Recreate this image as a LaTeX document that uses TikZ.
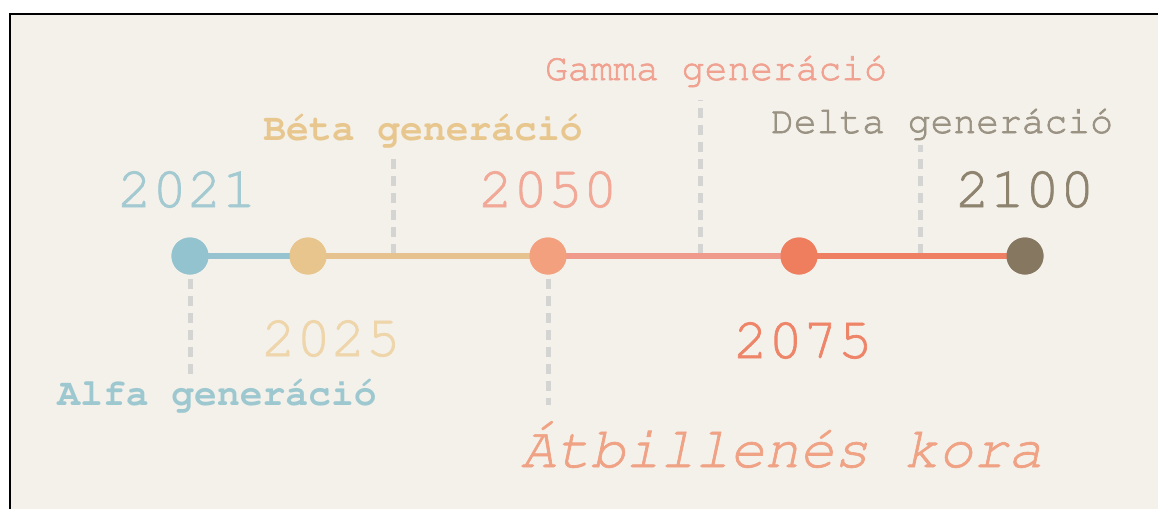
\documentclass[tikz,border=0pt]{standalone}
\usepackage[T1,TU]{fontenc}
\newcommand\cour{\fontencoding{T1}\fontfamily{pcr}\selectfont}
\newcommand\heavier[1]{\special{pdf:literal direct 2 Tr 0.7 w}#1\special{pdf:literal direct 0 Tr}}
\definecolor{bg}{HTML}{F4F1EB}
\definecolor{guidegray}{HTML}{D4D4D2}
\definecolor{cA}{HTML}{93C3CF}
\definecolor{cB}{HTML}{E7C58C}
\definecolor{cC}{HTML}{F3A07F}
\definecolor{cD}{HTML}{EF7E5F}
\definecolor{cE}{HTML}{867760}
\definecolor{lA}{HTML}{96C3CF}
\definecolor{lB}{HTML}{E6C38E}
\definecolor{lC}{HTML}{F09A8B}
\definecolor{lD}{HTML}{EE7F62}
\definecolor{tA}{HTML}{A3C9D1}
\definecolor{tB}{HTML}{EFD5AA}
\definecolor{tC}{HTML}{F1A896}
\definecolor{tD}{HTML}{EE8468}
\definecolor{tE}{HTML}{8D836F}
\definecolor{gA}{HTML}{9DC8D0}
\definecolor{gB}{HTML}{E8C78F}
\definecolor{gC}{HTML}{F0A190}
\definecolor{gD}{HTML}{9A9283}
\definecolor{gE}{HTML}{F0A285}
\begin{document}
\begin{tikzpicture}[x=1pt,y=-1pt,
  dot/.style={circle, fill=#1, minimum size=37pt, inner sep=0pt},
  seg/.style={line width=5.5pt, draw=#1},
  guide/.style={draw=guidegray, line width=5pt, dash pattern=on 10pt off 7pt},
  year/.style={font=\cour\fontsize{58}{58}\selectfont, text=#1, anchor=base, inner sep=0pt},
  gen/.style={font=\cour\fontsize{38}{38}\selectfont, text=#1, anchor=base, inner sep=0pt},
  genb/.style={font=\cour\bfseries\fontsize{38}{38}\selectfont, text=#1, anchor=base, inner sep=0pt},
  era/.style={font=\cour\slshape\fontsize{58}{58}\selectfont, text=#1, anchor=base, inner sep=0pt}
]
\useasboundingbox (0,0) rectangle (1158,509);
\fill[white] (0,0) rectangle (1158,509);
\fill[bg] (10,14) rectangle (1158,509);
\draw[black, line width=2pt] (10,509) -- (10,14) -- (1158,14);

% guide lines above the timeline
\coordinate (bTop) at (393,155);
\coordinate (bBot) at (393,254);
\coordinate (gTop) at (700,100);
\coordinate (gBot) at (700,254);
\coordinate (dTop) at (920,145);
\coordinate (dBot) at (920,254);
\draw[guide] (bBot) -- (bTop);
\draw[guide] (gBot) -- (gTop);
\draw[guide] (dBot) -- (dTop);

% circles
\node[dot=cA] (y2021) at (190,256) {};
\node[dot=cB] (y2025) at (308,256) {};
\node[dot=cC] (y2050) at (548,256) {};
\node[dot=cD] (y2075) at (799,256) {};
\node[dot=cE] (y2100) at (1025,256) {};

% segments
\draw[seg=lA] (y2021.center) -- (y2025.center);
\draw[seg=lB] (y2025.center) -- (y2050.center);
\draw[seg=lC] (y2050.center) -- (y2075.center);
\draw[seg=lD] (y2075.center) -- (y2100.center);

% redraw circles on top
\node[dot=cA] at (y2021) {};
\node[dot=cB] at (y2025) {};
\node[dot=cC] at (y2050) {};
\node[dot=cD] at (y2075) {};
\node[dot=cE] at (y2100) {};

% guide lines below
\coordinate (aBot) at (190,380);
\coordinate (eBot) at (548,405);
\draw[guide] ([yshift=-4pt]y2021.south) -- (aBot);
\draw[guide] ([yshift=-4pt]y2050.south) -- (eBot);

% labels
\node[year=tA] (l2021) at (187,207) {\heavier{2021}};
\node[year=tC] (l2050) at (548,207) {\heavier{2050}};
\node[year=tE] (l2100) at (1025,207) {\heavier{2100}};
\node[year=tB] (l2025) at (331,356) {\heavier{2025}};
\node[year=tD] (l2075) at (803,358) {\heavier{2075}};
\node[genb=gA] (alfa) at (217,405) {Alfa gener\'aci\'o};
\node[genb=gB] (beta) at (423,140) {B\'eta gener\'aci\'o};
\node[gen=gC] (gamma) at (716,80) {\heavier{Gamma gener\'aci\'o}};
\node[gen=gD] (delta) at (942,133) {\heavier{Delta gener\'aci\'o}};
\node[era=gE] (era) at (782,467) {\heavier{\'Atbillen\'es kora}};
\end{tikzpicture}
\end{document}
